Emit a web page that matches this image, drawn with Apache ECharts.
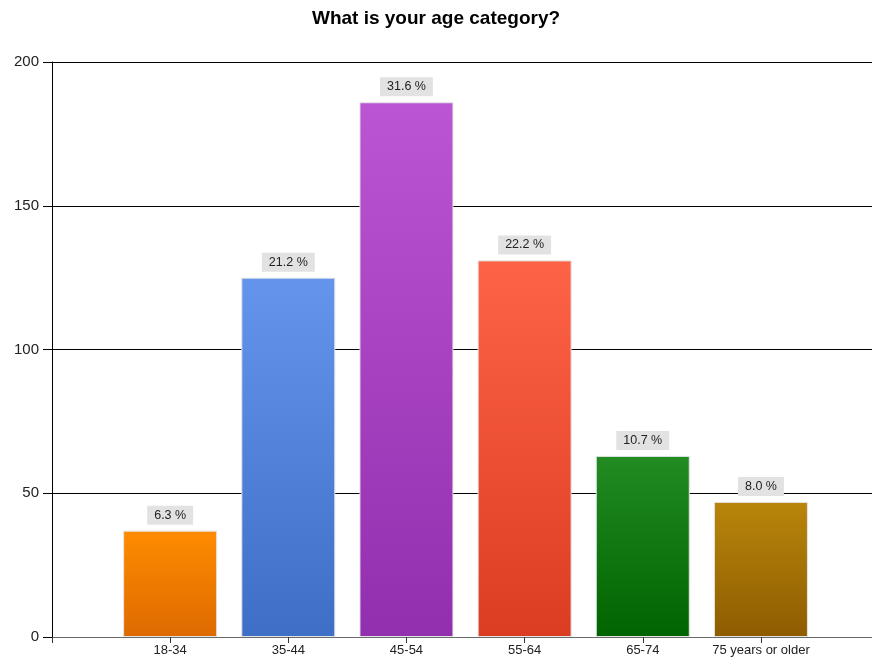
<!DOCTYPE html>
<html><head><meta charset="utf-8">
<script src="https://cdn.jsdelivr.net/npm/echarts@6/dist/echarts.min.js"></script>
<style>html,body{margin:0;padding:0;background:#fff}#c{width:872px;height:662px}</style>
</head><body><div id="c"></div>
<script>
var title = 'What is your age category?';
var categories = ['18-34', '35-44', '45-54', '55-64', '65-74', '75 years or older'];
var values = [37, 125, 186, 131, 63, 47];
var percentLabels = ['6.3 %', '21.2 %', '31.6 %', '22.2 %', '10.7 %', '8.0 %'];
var yTicks = [0, 50, 100, 150, 200];
var topColors = ['#FF8C00', '#6495ED', '#BA55D3', '#FF6347', '#228B22', '#B8860B'];
var bottomColors = ['#DD6A00', '#3E6FC6', '#922FAE', '#DA3D22', '#006400', '#8E5C00'];

var chart = echarts.init(document.getElementById('c'), null, {renderer: 'canvas'});
var font = 'Liberation Sans';
var positions = categories.map(function (c, i) { return i + 1; });
var data = values.map(function (v, i) {
  return {
    value: [positions[i], v],
    itemStyle: {
      color: new echarts.graphic.LinearGradient(0, 0, 0, 1, [
        {offset: 0, color: topColors[i]}, {offset: 1, color: bottomColors[i]}
      ]),
      borderColor: '#e4e4e4', borderWidth: 1
    },
    label: {formatter: percentLabels[i]}
  };
});
chart.setOption({
  animation: false,
  title: {text: title, left: 'center', top: 4,
    textStyle: {fontFamily: font, fontSize: 19, fontWeight: 'bold', color: '#000'}},
  grid: {left: 52, top: 62, right: 0, bottom: 25},
  xAxis: {
    type: 'value', min: 0, max: 6.94,
    splitLine: {show: false},
    axisLine: {show: true, lineStyle: {color: '#6a6a6a', width: 1}},
    axisTick: {show: true, length: 6, lineStyle: {color: '#333'}, customValues: [0].concat(positions)},
    axisLabel: {fontFamily: font, fontSize: 13, color: '#222', margin: 7,
      customValues: positions,
      formatter: function (v) { return categories[Math.round(v) - 1] || ''; }}
  },
  yAxis: {
    type: 'value', min: yTicks[0], max: yTicks[yTicks.length - 1], interval: 50,
    axisLine: {show: true, lineStyle: {color: '#000'}},
    axisTick: {show: true, length: 9, lineStyle: {color: '#000'}},
    splitLine: {show: true, lineStyle: {color: '#000', width: 1}},
    axisLabel: {fontFamily: font, fontSize: 15, color: '#222', margin: 13}
  },
  series: [{
    type: 'bar', barWidth: 94, data: data,
    label: {show: true, position: 'top', distance: 6, backgroundColor: '#e2e2e2',
      padding: [3, 7, 3, 7], fontFamily: font, fontSize: 12.5, color: '#222'}
  }]
});
</script></body></html>
